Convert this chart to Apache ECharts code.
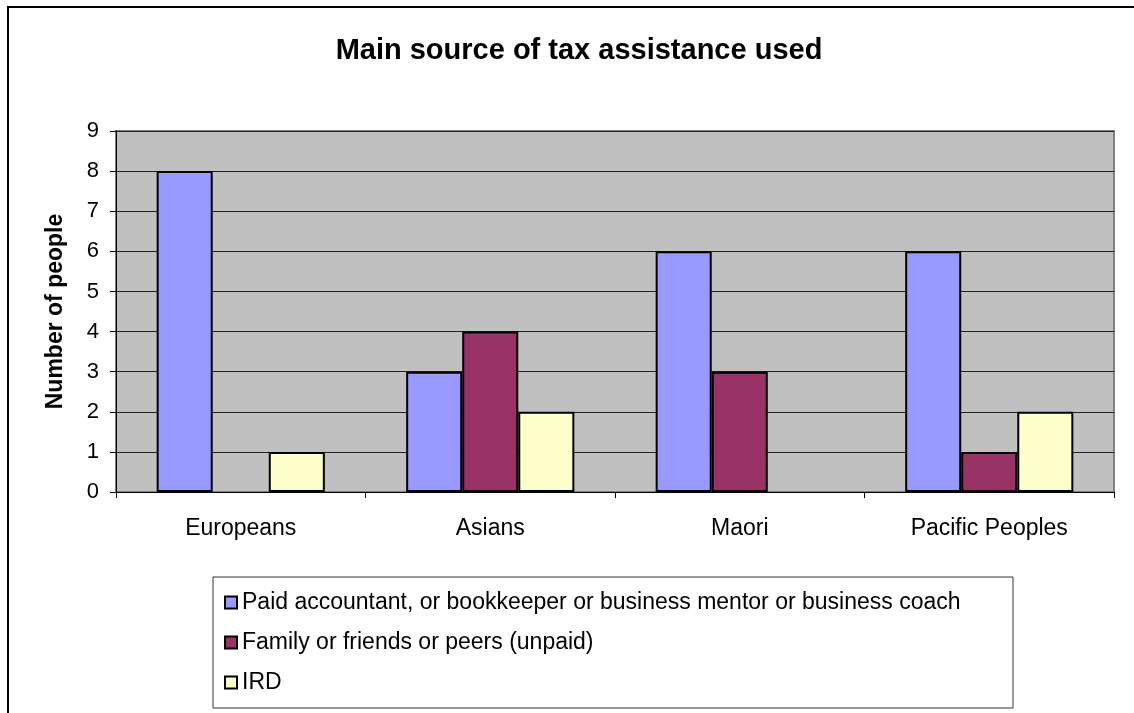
<!DOCTYPE html>
<html>
<head>
<meta charset="utf-8">
<script src="https://cdn.jsdelivr.net/npm/echarts@6/dist/echarts.min.js"></script>
<style>
  html, body { margin: 0; padding: 0; background: #fff; overflow: hidden; }
  #frame { position: absolute; left: 7px; top: 6px; width: 1140px; height: 720px; border: 2px solid #000; box-sizing: border-box; }
  #chart { position: absolute; left: 0; top: 0; width: 1134px; height: 713px; }
</style>
</head>
<body>
<div id="frame"></div>
<div id="chart"></div>
<script>
// 纵向分组柱状图
var categories = ["Europeans", "Asians", "Maori", "Pacific Peoples"];
var paidAdvisor = [8, 3, 6, 6];
var familyFriends = [0, 4, 3, 1];
var ird = [1, 2, 0, 2];
var seriesNames = [
  "Paid accountant, or bookkeeper or business mentor or business coach",
  "Family or friends or peers (unpaid)",
  "IRD"
];
var colors = ["#9999FF", "#993366", "#FFFFCC"];

var font = "Liberation Sans, Arial, sans-serif";

function makeBar(name, data, color) {
  return {
    name: name,
    type: "bar",
    // zero bars get no outline, like the original
    data: data.map(function (v) {
      return v === 0 ? { value: v, itemStyle: { borderWidth: 0 } } : v;
    }),
    barGap: "0%",
    barCategoryGap: "32.6%",
    itemStyle: { color: color, borderColor: "#000", borderWidth: 2 }
  };
}

var myChart = echarts.init(document.getElementById("chart"), null, { renderer: "canvas" });
myChart.setOption({
  animation: false,
  title: {
    text: "Main source of tax assistance used",
    left: 574,
    textAlign: "center",
    top: 31,
    textStyle: { fontFamily: font, fontSize: 29, fontWeight: "bold", color: "#000" }
  },
  grid: {
    left: 116,
    right: 20,
    top: 131,
    bottom: 221,
    show: true,
    backgroundColor: "#C0C0C0",
    borderColor: "#808080",
    borderWidth: 2
  },
  legend: {
    orient: "vertical",
    left: 219,
    top: 586,
    itemWidth: 12,
    itemHeight: 12,
    itemGap: 17,
    icon: "rect",
    data: seriesNames,
    textStyle: { fontFamily: font, fontSize: 23, color: "#000" }
  },
  graphic: [{
    type: "rect",
    shape: { x: 213, y: 577, width: 800, height: 131 },
    style: { fill: "none", stroke: "#333", lineWidth: 1 },
    z: 0
  }],
  xAxis: {
    type: "category",
    data: categories,
    axisLine: { lineStyle: { color: "#000", width: 1 } },
    axisTick: { show: true, length: 6, lineStyle: { color: "#000" } },
    axisLabel: { fontFamily: font, fontSize: 23, color: "#000", margin: 25 }
  },
  yAxis: {
    type: "value",
    min: 0,
    max: 9,
    interval: 1,
    name: "Number of people",
    nameLocation: "middle",
    nameGap: 49,
    nameTextStyle: { fontFamily: font, fontSize: 23, fontWeight: "bold", color: "#000" },
    axisLine: { show: true, lineStyle: { color: "#000", width: 1 } },
    axisTick: { show: true, length: 6, lineStyle: { color: "#000" } },
    axisLabel: { fontFamily: font, fontSize: 22, color: "#000", margin: 17 },
    splitLine: { show: true, lineStyle: { color: "#222", width: 1 } }
  },
  series: [
    makeBar(seriesNames[0], paidAdvisor, colors[0]),
    makeBar(seriesNames[1], familyFriends, colors[1]),
    makeBar(seriesNames[2], ird, colors[2])
  ]
});
</script>
</body>
</html>
